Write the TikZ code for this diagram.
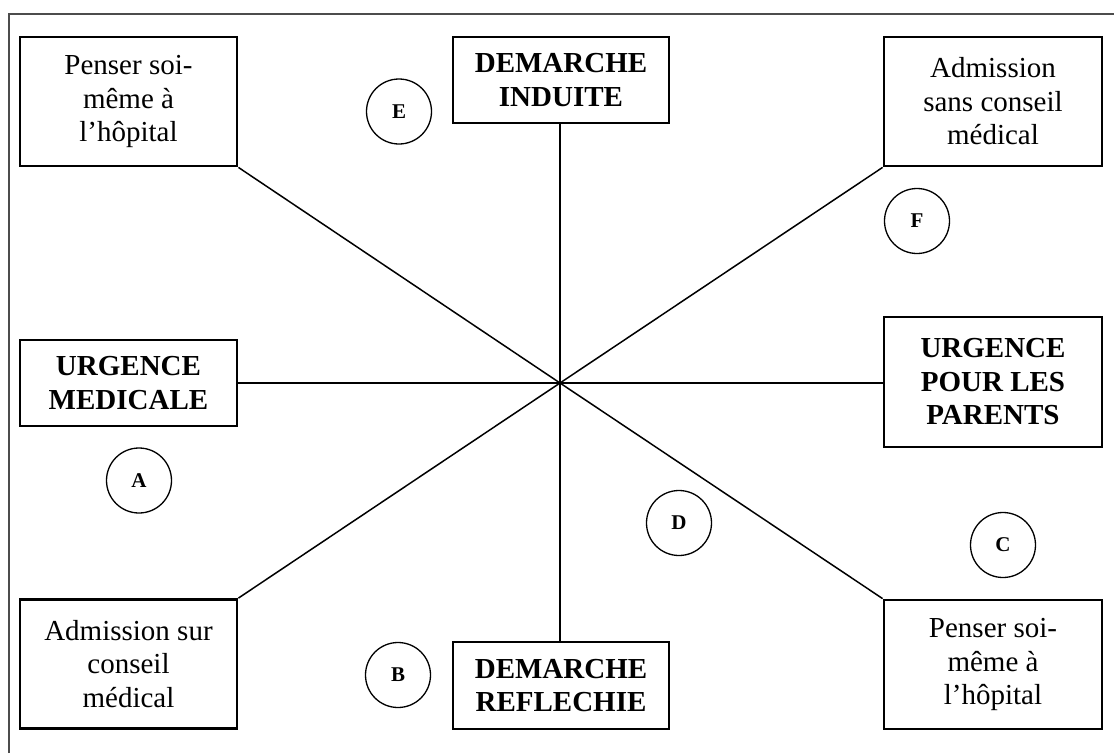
\documentclass[tikz,border=0pt]{standalone}
\usepackage{fontspec}
\setmainfont{Liberation Serif}
\begin{document}
\begin{tikzpicture}[x=1pt,y=-1pt,
  box/.style={draw, line width=2.8pt, inner sep=0pt, align=center,
    font=\fontsize{29}{33.5}\selectfont},
  bbox/.style={box, font=\fontsize{29}{33.5}\selectfont\bfseries},
  lbl/.style={draw, circle, line width=1.3pt, minimum size=65pt, inner sep=0pt,
    font=\fontsize{21}{24}\selectfont\bfseries},
  spoke/.style={line width=1.5pt},
  frame/.style={line width=1.6pt, draw=black!70}]
\useasboundingbox (0,0) rectangle (1114,753);
\fill[white] (0,0) rectangle (1114,753);
\draw[frame] (9,753) -- (9,14) -- (1114,14);
\coordinate (c) at (560,383);
% boxes
\node[box, minimum width=217pt, minimum height=129pt] (tl) at (128.5,101.5) {Penser soi-\\même à\\l’hôpital};
\node[bbox, minimum width=216pt, minimum height=86pt] (ti) at (561,80) {DEMARCHE\\INDUITE};
\node[box, minimum width=218pt, minimum height=129pt] (tr) at (993,101.5) {Admission\\sans conseil\\médical};
\node[bbox, minimum width=217pt, minimum height=86pt] (ml) at (128.5,383) {URGENCE\\MEDICALE};
\node[bbox, minimum width=218pt, minimum height=130pt] (mr) at (993,382) {URGENCE\\POUR LES\\PARENTS};
\node[box, minimum width=217pt, minimum height=129pt] (bl) at (128.5,664) {Admission sur\\conseil\\médical};
\node[bbox, minimum width=216pt, minimum height=87pt] (bm) at (561,685.5) {DEMARCHE\\REFLECHIE};
\node[box, minimum width=218pt, minimum height=129pt] (br) at (993,664.5) {Penser soi-\\même à\\l’hôpital};
% circles
\node[lbl] (E) at (399,111.5) {E};
\node[lbl] (F) at (917,221) {F};
\node[lbl] (A) at (139,480.5) {A};
\node[lbl] (B) at (398,675) {B};
\node[lbl] (D) at (679,523) {D};
\node[lbl] (C) at (1003,545) {C};
% spokes
\draw[spoke] (c) -- (tl.south east);
\draw[spoke] (c) -- (tr.south west);
\draw[spoke] (c) -- (bl.north east);
\draw[spoke] (c) -- (br.north west);
\draw[spoke] (c) -- (c -| ml.east);
\draw[spoke] (c) -- (c -| mr.west);
\draw[spoke] (c) -- (c |- ti.south);
\draw[spoke] (c) -- (c |- bm.north);
\end{tikzpicture}
\end{document}
